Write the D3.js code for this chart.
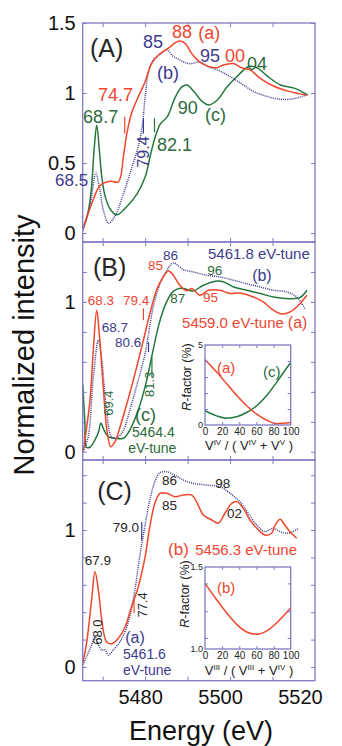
<!DOCTYPE html>
<html>
<head>
<meta charset="utf-8">
<script src="https://cdn.jsdelivr.net/npm/d3@7"></script>
<style>
body { margin: 0; background: #fff; }
svg { display: block; font-family: "Liberation Sans", Arial, Helvetica, sans-serif; }
</style>
</head>
<body>
<svg id="fig" width="342" height="746"></svg>
<script>
// ---- data ----
const energyTicks = [5470, 5480, 5490, 5500, 5510];
const energyLabels = [5480, 5500, 5520];

// panel A : (a) red, (b) blue dotted, (c) green
const eA_a = [5465.4,5467.8,5469.4,5471.7,5473.7,5474.9,5475.7,5476.8,5478.4,5480.0,5481.5,5483.5,5485.5,5487.8,5489.4,5491.0,5492.9,5494.9,5496.9,5498.4,5500.8,5502.7,5504.7,5507.1,5510.2,5514.1,5518.1];
const iA_a = [0.035,0.24,0.34,0.37,0.366,0.55,0.71,0.855,0.974,1.08,1.21,1.28,1.32,1.37,1.355,1.28,1.22,1.19,1.18,1.2,1.21,1.18,1.165,1.105,1.05,1.01,0.985];
const eA_b = [5465.4,5467.0,5468.4,5469.2,5470.2,5471.4,5472.9,5474.9,5476.9,5478.4,5479.3,5480.0,5480.8,5482.0,5483.6,5485.2,5486.3,5487.9,5490.3,5493.0,5494.6,5497.0,5499.3,5502.5,5505.6,5508.8,5511.9,5515.1,5518.3];
const iA_b = [0.02,0.19,0.43,0.33,0.16,0.07,0.12,0.28,0.47,0.62,0.76,0.97,1.15,1.24,1.28,1.31,1.27,1.24,1.21,1.22,1.19,1.165,1.13,1.07,1.01,0.975,0.955,0.96,0.99];
const eA_c = [5465.4,5466.5,5467.3,5468.0,5468.6,5469.2,5469.8,5470.6,5471.8,5473.3,5475.7,5478.1,5480.0,5481.2,5482.4,5483.6,5485.2,5487.1,5488.7,5489.9,5491.5,5493.4,5495.0,5497.0,5499.3,5501.7,5504.4,5506.4,5508.8,5511.9,5515.1,5518.3];
const iA_c = [0.035,0.14,0.3,0.6,0.77,0.6,0.4,0.26,0.17,0.13,0.19,0.28,0.40,0.55,0.69,0.78,0.83,0.97,1.045,1.057,1.01,0.94,0.915,0.95,1.045,1.12,1.19,1.18,1.12,1.057,1.035,0.985];

// panel B
const eB_a = [5465.4,5467.0,5467.8,5468.6,5469.2,5470.2,5471.0,5471.9,5472.9,5474.1,5475.7,5477.6,5479.6,5481.1,5482.7,5484.3,5485.5,5486.6,5488.2,5489.8,5491.0,5492.9,5494.9,5497.6,5500.0,5502.3,5505.5,5507.8,5510.2,5512.2,5514.1,5516.1,5518.1];
const iB_a = [0.0,0.34,0.68,0.945,0.79,0.41,0.145,0.033,0.067,0.167,0.32,0.52,0.745,0.92,1.08,1.17,1.207,1.18,1.11,1.075,1.09,1.045,1.078,1.078,1.056,1.06,1.033,1.0,0.945,0.92,0.933,0.978,1.045];
const eB_b = [5465.4,5466.6,5467.8,5469.0,5469.8,5470.9,5472.1,5473.3,5474.9,5476.4,5478.4,5480.0,5480.7,5481.9,5483.5,5485.1,5486.6,5489.0,5491.3,5494.5,5497.6,5500.8,5503.9,5507.1,5510.2,5513.3,5515.7,5517.6];
const iB_b = [0.0,0.1,0.5,0.745,0.61,0.28,0.1,0.09,0.145,0.28,0.48,0.655,0.767,0.967,1.12,1.21,1.26,1.216,1.2,1.178,1.167,1.145,1.122,1.1,1.078,1.067,1.033,0.955];
const eB_c = [5465.3,5465.8,5466.2,5467.0,5468.2,5469.0,5469.6,5470.4,5471.4,5473.0,5474.9,5476.4,5478.4,5480.2,5481.7,5483.3,5484.9,5486.5,5488.0,5489.0,5491.3,5493.7,5496.9,5498.4,5500.8,5503.9,5507.1,5510.2,5514.1,5516.5,5518.1];
const iB_c = [0.45,0.2,0.03,0.03,0.08,0.13,0.19,0.14,0.1,0.09,0.09,0.145,0.28,0.456,0.655,0.855,0.99,1.067,1.09,1.09,1.073,1.111,1.14,1.135,1.1,1.078,1.056,1.033,1.022,1.03,1.078];

// panel C : (b) red, (a) blue dotted
const eC_b = [5465.3,5466.2,5467.4,5468.2,5469.0,5469.8,5470.9,5472.1,5473.7,5475.3,5476.8,5478.4,5480.0,5481.1,5482.3,5483.5,5485.1,5487.0,5489.0,5491.0,5492.1,5493.7,5495.7,5497.2,5498.8,5500.4,5501.6,5503.1,5504.7,5506.7,5508.2,5509.8,5510.6,5511.8,5512.9,5514.1,5515.7];
const iC_b = [0.027,0.17,0.49,0.696,0.56,0.343,0.185,0.17,0.21,0.294,0.44,0.586,0.805,1.024,1.195,1.268,1.268,1.243,1.255,1.255,1.207,1.11,1.073,1.049,1.122,1.195,1.207,1.158,1.073,1.0,0.963,0.976,1.036,1.078,1.036,0.988,0.94];
const eC_a = [5465.3,5466.2,5467.4,5468.2,5469.0,5469.8,5470.6,5471.3,5472.5,5474.1,5475.7,5477.2,5478.8,5480.0,5481.1,5482.3,5483.5,5485.1,5487.0,5489.0,5491.3,5494.5,5497.6,5500.0,5502.3,5504.3,5506.3,5508.2,5510.2,5511.8,5513.7,5516.1];
const iC_a = [0.015,0.075,0.16,0.22,0.16,0.124,0.124,0.088,0.124,0.185,0.294,0.49,0.82,1.04,1.219,1.353,1.418,1.425,1.40,1.365,1.341,1.328,1.316,1.268,1.207,1.122,1.036,0.988,1.012,0.988,0.976,1.012];

// insets: R-factor vs fraction (%)
const rB_ax = [0,13.6,25.3,37,48.6,60.3,72,83.7,100];
const rB_a  = [4.1,3.31,2.58,1.84,1.2,0.68,0.3,0.08,0.15];
const rB_cx = [0,13.6,25.3,37,48.6,60.3,72,83.7,93.4,100];
const rB_c  = [0.89,0.57,0.42,0.51,0.78,1.2,1.84,2.68,3.42,3.9];
const rC_bx = [0,13.6,25.3,37,48.6,60.3,72,83.7,100];
const rC_b  = [1.40,1.30,1.22,1.15,1.104,1.09,1.11,1.16,1.25];

// ---- styling ----
const col = { a: "#ef472c", b: "#3b398c", c: "#24783d", k: "#262626",
              ta: "#ee4630", tb: "#3d3b8c", tc: "#2c6a3c", frame: "#7e7ac4" };

const svg = d3.select("#fig");
const x = d3.scaleLinear().domain([5465.3, 5520]).range([82.7, 315]);

function pairs(xs, ys) { return d3.zip(xs, ys); }

function frame(g, xs, ys, xt, yt, len) {
  const [b, t] = ys.range();
  const [l, r] = xs.range();
  const axes = [
    [d3.axisBottom(xs).tickValues(xt), `translate(0,${b})`],
    [d3.axisTop(xs).tickValues(xt), `translate(0,${t})`],
    [d3.axisLeft(ys).tickValues(yt), `translate(${l},0)`],
    [d3.axisRight(ys).tickValues(yt), `translate(${r},0)`]
  ];
  axes.forEach(([ax, tr]) => {
    const a = g.append("g").attr("transform", tr)
      .call(ax.tickSize(-len).tickFormat(""));
    a.select(".domain").remove();
    a.selectAll("line").attr("stroke", col.frame).attr("stroke-width", 1);
  });
  g.append("rect").attr("x", l).attr("y", t).attr("width", r - l).attr("height", b - t)
    .attr("fill", "none").attr("stroke", col.frame).attr("stroke-width", 1.3);
}

function curve(g, xs, ys, data, key, dotted) {
  g.append("path").datum(data)
    .attr("d", d3.line().x(d => xs(d[0])).y(d => ys(d[1])).curve(d3.curveCatmullRom.alpha(0.5)))
    .attr("fill", "none").attr("stroke", col[key])
    .attr("stroke-width", dotted ? 1.5 : 1.5)
    .attr("stroke-dasharray", dotted ? "1,1.1" : null)
    .attr("stroke-linejoin", "round");
}

function note(g, xs, ys, n) {
  const t = g.append("text")
    .attr("fill", col[n.c]).attr("font-size", n.s).text(n.t);
  if (n.r) {
    t.attr("text-anchor", "middle")
     .attr("transform", `translate(${xs(n.e)},${ys(n.v)}) rotate(-90)`);
  } else {
    t.attr("x", xs(n.e)).attr("y", ys(n.v));
  }
}

function mark(g, xs, ys, m) {
  g.append("line").attr("x1", xs(m.e)).attr("x2", xs(m.e))
    .attr("y1", ys(m.v0)).attr("y2", ys(m.v1))
    .attr("stroke", col[m.c]).attr("stroke-width", 1.2);
}

// ---- main panels ----
const panels = [
  { top: 23, bottom: 242, dom: [-0.064, 1.5], ticks: [0, 0.5, 1, 1.5], labels: [0, 0.5, 1, 1.5],
    series: [[eA_c, iA_c, "c", false], [eA_b, iA_b, "b", true], [eA_a, iA_a, "a", false]],
    marks: [{e: 5475.2, v0: 0.71, v1: 0.83, c: "a"}, {e: 5479.6, v0: 0.71, v1: 0.82, c: "b"},
            {e: 5482.2, v0: 0.72, v1: 0.82, c: "c"}],
    notes: [
      {t: "(A)", e: 5467.0, v: 1.257, c: "k", s: 25},
      {t: "85", e: 5479.5, v: 1.32, c: "tb", s: 18},
      {t: "88", e: 5486.3, v: 1.393, c: "ta", s: 18},
      {t: "(a)", e: 5492.5, v: 1.386, c: "ta", s: 18},
      {t: "(b)", e: 5482.8, v: 1.1, c: "tb", s: 18},
      {t: "95", e: 5492.9, v: 1.221, c: "tb", s: 18},
      {t: "00", e: 5498.8, v: 1.221, c: "ta", s: 18},
      {t: "04", e: 5504.0, v: 1.164, c: "tc", s: 18},
      {t: "74.7", e: 5468.9, v: 0.943, c: "ta", s: 18},
      {t: "68.7", e: 5465.4, v: 0.786, c: "tc", s: 18},
      {t: "90", e: 5487.7, v: 0.85, c: "tc", s: 18},
      {t: "(c)", e: 5494.1, v: 0.8, c: "tc", s: 18},
      {t: "82.1", e: 5482.8, v: 0.586, c: "tc", s: 18},
      {t: "79.4", e: 5480.9, v: 0.579, c: "tb", s: 16, r: true},
      {t: "68.5", e: 5458.8, v: 0.336, c: "tb", s: 17}
    ] },
  { top: 242, bottom: 460, dom: [-0.055, 1.4], ticks: [0, 0.2, 0.4, 0.6, 0.8, 1, 1.2, 1.4], labels: [0, 1],
    series: [[eB_c, iB_c, "c", false], [eB_b, iB_b, "b", true], [eB_a, iB_a, "a", false]],
    marks: [{e: 5479.6, v0: 0.878, v1: 0.957, c: "a"}, {e: 5480.8, v0: 0.665, v1: 0.731, c: "b"},
            {e: 5481.6, v0: 0.498, v1: 0.631, c: "c"}],
    notes: [
      {t: "(B)", e: 5467.7, v: 1.171, c: "k", s: 25},
      {t: "85", e: 5480.7, v: 1.211, c: "ta", s: 13.5},
      {t: "86", e: 5484.2, v: 1.278, c: "tb", s: 13.5},
      {t: "5461.8 eV-tune", e: 5494.8, v: 1.285, c: "tb", s: 15},
      {t: "(b)", e: 5505.2, v: 1.138, c: "tb", s: 16},
      {t: "96", e: 5494.6, v: 1.178, c: "tc", s: 13.5},
      {t: "87", e: 5485.9, v: 0.991, c: "tc", s: 13.5},
      {t: "95", e: 5493.6, v: 0.998, c: "ta", s: 13.5},
      {t: "5459.0 eV-tune", e: 5488.7, v: 0.825, c: "ta", s: 15},
      {t: "(a)", e: 5513.6, v: 0.825, c: "ta", s: 16},
      {t: "68.3", e: 5466.5, v: 0.978, c: "ta", s: 13.5},
      {t: "79.4", e: 5474.8, v: 0.978, c: "ta", s: 13.5},
      {t: "68.7", e: 5469.8, v: 0.798, c: "tb", s: 13.5},
      {t: "80.6", e: 5472.9, v: 0.698, c: "tb", s: 13.5},
      {t: "69.4", e: 5472.4, v: 0.325, c: "tc", s: 13, r: true},
      {t: "81.3", e: 5482.1, v: 0.45, c: "tc", s: 13, r: true},
      {t: "(c)", e: 5477.6, v: 0.205, c: "tc", s: 18},
      {t: "5464.4", e: 5476.9, v: 0.098, c: "tc", s: 14},
      {t: "eV-tune", e: 5476.0, v: -0.01, c: "tc", s: 14}
    ] },
  { top: 460, bottom: 680.7, dom: [-0.1, 1.511], ticks: [0, 0.2, 0.4, 0.6, 0.8, 1, 1.2, 1.4], labels: [0, 1],
    series: [[eC_a, iC_a, "b", true], [eC_b, iC_b, "a", false]],
    marks: [{e: 5479.2, v0: 0.927, v1: 1.058, c: "b"}, {e: 5477.4, v0: 0.394, v1: 0.489, c: "a"}],
    notes: [
      {t: "(C)", e: 5468.7, v: 1.219, c: "k", s: 25},
      {t: "86", e: 5484.0, v: 1.328, c: "k", s: 13.5},
      {t: "98", e: 5496.5, v: 1.307, c: "k", s: 13.5},
      {t: "85", e: 5484.0, v: 1.146, c: "k", s: 13.5},
      {t: "02", e: 5499.3, v: 1.088, c: "k", s: 13.5},
      {t: "79.0", e: 5472.4, v: 0.985, c: "k", s: 13.5},
      {t: "(b)", e: 5485.4, v: 0.818, c: "ta", s: 17},
      {t: "5456.3 eV-tune", e: 5491.8, v: 0.818, c: "ta", s: 15},
      {t: "67.9", e: 5465.8, v: 0.745, c: "k", s: 13.5},
      {t: "77.4", e: 5480.4, v: 0.453, c: "k", s: 13, r: true},
      {t: "68.0", e: 5469.8, v: 0.255, c: "k", s: 13, r: true},
      {t: "(a)", e: 5475.3, v: 0.175, c: "tb", s: 16},
      {t: "5461.6", e: 5474.8, v: 0.055, c: "tb", s: 14},
      {t: "eV-tune", e: 5474.8, v: -0.055, c: "tb", s: 14}
    ] }
];

panels.forEach(p => {
  const y = d3.scaleLinear().domain(p.dom).range([p.bottom, p.top]);
  const g = svg.append("g");
  p.series.forEach(s => curve(g, x, y, pairs(s[0], s[1]), s[2], s[3]));
  p.marks.forEach(m => mark(g, x, y, m));
  frame(g, x, y, energyTicks, p.ticks, 4);
  p.notes.forEach(n => note(g, x, y, n));
  const yl = g.append("g").attr("transform", "translate(82.7,0)")
    .call(d3.axisLeft(y).tickValues(p.labels).tickSize(0).tickPadding(7).tickFormat(d3.format("~g")));
  yl.select(".domain").remove();
  yl.selectAll("text").attr("font-size", 20).attr("fill", "#111").attr("font-family", null);
});

// energy axis labels under the last panel
const xl = svg.append("g").attr("transform", "translate(0,680.7)")
  .call(d3.axisBottom(x).tickValues(energyLabels).tickSize(0).tickPadding(9).tickFormat(d3.format("d")));
xl.select(".domain").remove();
xl.selectAll("text").attr("font-size", 20).attr("fill", "#111").attr("font-family", null)
  .attr("dx", d => -(d - 5460) / 4);

svg.append("text").attr("x", 201).attr("y", 740).attr("text-anchor", "middle")
  .attr("font-size", 27).attr("fill", "#111").text("Energy (eV)");
svg.append("text").attr("transform", "translate(34,345) rotate(-90)").attr("text-anchor", "middle")
  .attr("font-size", 29).attr("fill", "#111").text("Normalized intensity");

// ---- insets ----
function ratioTitle(g, cx, by, a, b) {
  const t = g.append("text").attr("x", cx).attr("y", by).attr("text-anchor", "middle")
    .attr("font-size", 13).attr("fill", "#222");
  t.append("tspan").text("V");
  t.append("tspan").attr("dy", -5).attr("font-size", 8).text(a);
  t.append("tspan").attr("dy", 5).text(" / ( V");
  t.append("tspan").attr("dy", -5).attr("font-size", 8).text(a);
  t.append("tspan").attr("dy", 5).text(" + V");
  t.append("tspan").attr("dy", -5).attr("font-size", 8).text(b);
  t.append("tspan").attr("dy", 5).text(" )");
}

function rLabel(g, bx, cy) {
  const t = g.append("text").attr("transform", `translate(${bx},${cy}) rotate(-90)`)
    .attr("text-anchor", "middle").attr("font-size", 12.5).attr("fill", "#222");
  t.append("tspan").attr("font-style", "italic").text("R");
  t.append("tspan").text("-factor (%)");
}

const pct = [0, 20, 40, 60, 80, 100];
const insets = [
  { top: 345, bottom: 425, dom: [0, 5], yt: [1, 2, 3, 4], yl: [0, 5], fmt: d3.format("d"),
    series: [[rB_cx, rB_c, "c"], [rB_ax, rB_a, "a"]], sup: ["IV", "V"], title: 450, rl: [191, 377],
    notes: [{t: "(a)", e: 14, v: 3.25, c: "ta", s: 15}, {t: "(c)", e: 67.7, v: 3.0, c: "tc", s: 15}] },
  { top: 567, bottom: 649, dom: [1.0, 1.5], yt: [1.067, 1.23, 1.4], yl: [1.0, 1.5], fmt: d3.format(".1f"),
    series: [[rC_bx, rC_b, "a"]], sup: ["III", "IV"], title: 675, rl: [189, 594],
    notes: [{t: "(b)", e: 14, v: 1.343, c: "ta", s: 15}] }
];

insets.forEach(p => {
  const ix = d3.scaleLinear().domain([0, 100]).range([205, 290.7]);
  const iy = d3.scaleLinear().domain(p.dom).range([p.bottom, p.top]);
  const g = svg.append("g");
  g.append("rect").attr("x", 205).attr("y", p.top).attr("width", 85.7).attr("height", p.bottom - p.top)
    .attr("fill", "#fff");
  p.series.forEach(s => {
    g.append("path").datum(pairs(s[0], s[1]))
      .attr("d", d3.line().x(d => ix(d[0])).y(d => iy(d[1])).curve(d3.curveMonotoneX))
      .attr("fill", "none").attr("stroke", col[s[2]]).attr("stroke-width", 1.5);
  });
  frame(g, ix, iy, pct.slice(1, -1), p.yt, 3);
  p.notes.forEach(n => note(g, ix, iy, n));
  const ax = g.append("g").attr("transform", `translate(0,${p.bottom})`)
    .call(d3.axisBottom(ix).tickValues(pct).tickSize(0).tickPadding(3));
  ax.select(".domain").remove();
  ax.selectAll("text").attr("font-size", 10).attr("fill", "#222").attr("font-family", null);
  const ay = g.append("g").attr("transform", "translate(205,0)")
    .call(d3.axisLeft(iy).tickValues(p.yl).tickSize(0).tickPadding(2).tickFormat(p.fmt));
  ay.select(".domain").remove();
  ay.selectAll("text").attr("font-size", 9).attr("fill", "#222").attr("font-family", null);
  ratioTitle(g, 249, p.title, p.sup[0], p.sup[1]);
  rLabel(g, p.rl[0], p.rl[1]);
});
</script>
</body>
</html>
